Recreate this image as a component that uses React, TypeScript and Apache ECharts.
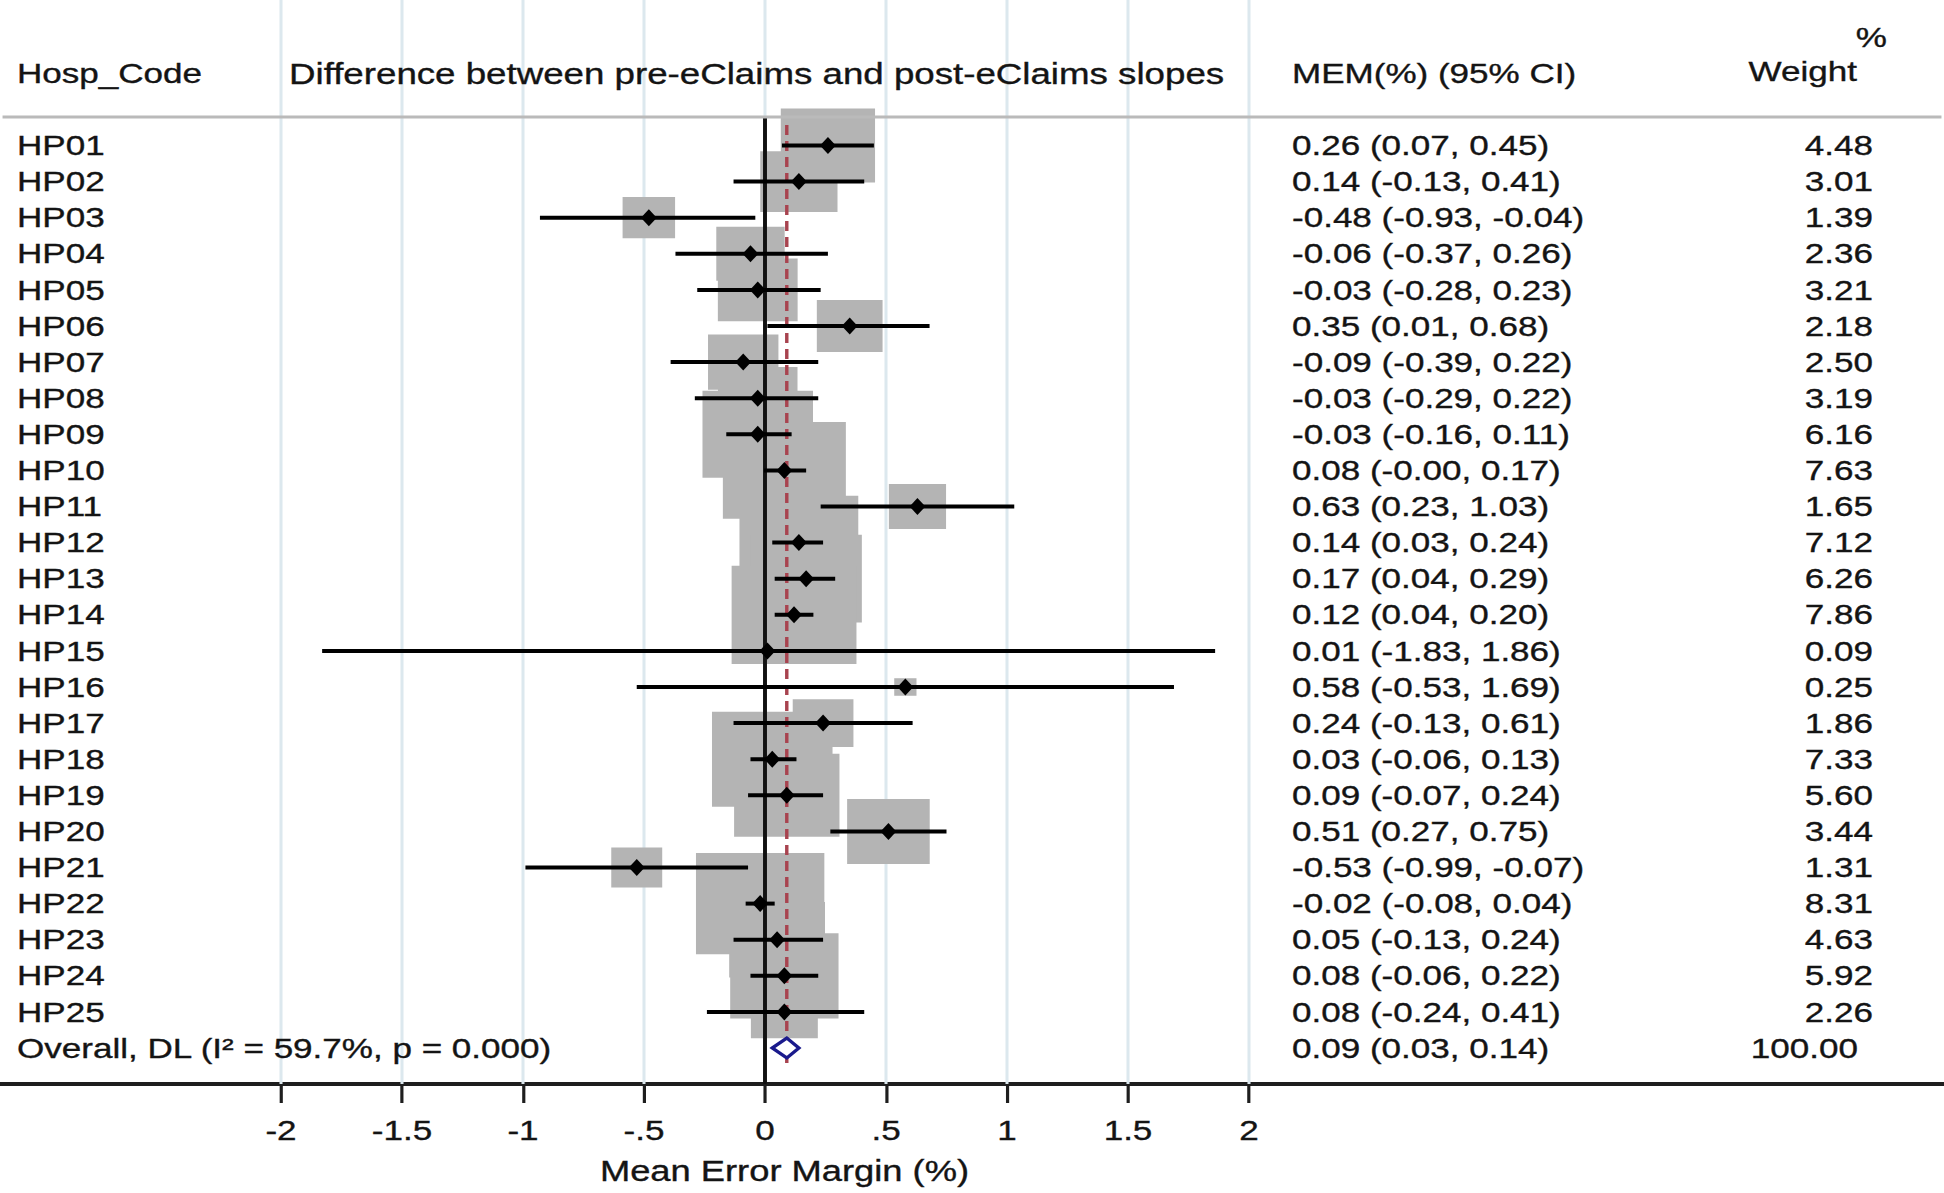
import React, { useEffect, useRef } from "react";
import * as echarts from "echarts";

// ---------------- data ----------------
const hospCodes = [
  "HP01", "HP02", "HP03", "HP04", "HP05", "HP06", "HP07", "HP08", "HP09", "HP10",
  "HP11", "HP12", "HP13", "HP14", "HP15", "HP16", "HP17", "HP18", "HP19", "HP20",
  "HP21", "HP22", "HP23", "HP24", "HP25",
];
const memValues = [
  0.26, 0.14, -0.48, -0.06, -0.03, 0.35, -0.09, -0.03, -0.03, 0.08,
  0.63, 0.14, 0.17, 0.12, 0.01, 0.58, 0.24, 0.03, 0.09, 0.51,
  -0.53, -0.02, 0.05, 0.08, 0.08,
];
const ciLower = [
  0.07, -0.13, -0.93, -0.37, -0.28, 0.01, -0.39, -0.29, -0.16, -0.004,
  0.23, 0.03, 0.04, 0.04, -1.83, -0.53, -0.13, -0.06, -0.07, 0.27,
  -0.99, -0.08, -0.13, -0.06, -0.24,
];
const ciUpper = [
  0.45, 0.41, -0.04, 0.26, 0.23, 0.68, 0.22, 0.22, 0.11, 0.17,
  1.03, 0.24, 0.29, 0.2, 1.86, 1.69, 0.61, 0.13, 0.24, 0.75,
  -0.07, 0.04, 0.24, 0.22, 0.41,
];
const weightPct = [
  4.48, 3.01, 1.39, 2.36, 3.21, 2.18, 2.5, 3.19, 6.16, 7.63,
  1.65, 7.12, 6.26, 7.86, 0.09, 0.25, 1.86, 7.33, 5.6, 3.44,
  1.31, 8.31, 4.63, 5.92, 2.26,
];
const overallLabel = "Overall, DL (I\u00B2 = 59.7%, p = 0.000)";
const overallMem = 0.09;
const overallLower = 0.03;
const overallUpper = 0.14;
const overallWeight = 100.0;

const xTickValues = [-2, -1.5, -1, -0.5, 0, 0.5, 1, 1.5, 2];

const headerCode = "Hosp_Code";
const headerPlot = "Difference between pre-eClaims and post-eClaims slopes";
const headerCI = "MEM(%) (95% CI)";
const headerPct = "%";
const headerWeight = "Weight";
const xAxisTitle = "Mean Error Margin (%)";

// ---------------- layout ----------------
const PAGE_W = 1944;
const PAGE_H = 1193;
const W = 1531; // internal width, stretched horizontally to the page width
const STRETCH = PAGE_W / W;
const fx = (x: number) => x / STRETCH; // reference px -> internal px
const AXIS_Y = 1084;
const ROW0_Y = 145.5;
const ROW_H = 36.1;
const ZERO_X = fx(765);
const UNIT_X = fx(242);
const X_MIN = -ZERO_X / UNIT_X;
const X_MAX = (W - ZERO_X) / UNIT_X;
const Y_MIN = -ROW0_Y / ROW_H;
const Y_MAX = (AXIS_Y - ROW0_Y) / ROW_H;
const rowOf = (y: number) => (y - ROW0_Y) / ROW_H;
const HEADER_LINE_Y = 117;
const BOX_UNITS = 0.184; // x-units per sqrt(weight %)

const FONT = '"Liberation Sans", Arial, Helvetica, sans-serif';
const FS = 27.6;
const TEXT_COLOR = "#141414";
const TEXT_STROKE = 0.35;
const LABEL_X = fx(17);
const CI_X = fx(1292);
const WEIGHT_RIGHT = fx(1873);
const OVERALL_WEIGHT_RIGHT = fx(1858);

const f2 = (v: number) => v.toFixed(2);
const tickFmt = (v: number) => {
  if (v === 0) return "0";
  const s = String(Math.abs(v)).replace(/^0\./, ".");
  return (v < 0 ? "-" : "") + s;
};

const txt = (x: number, y: number, text: string, align: string, fontSize = FS) => ({
  type: "text",
  x,
  y,
  style: {
    text,
    fill: TEXT_COLOR,
    stroke: TEXT_COLOR,
    lineWidth: TEXT_STROKE,
    fontSize,
    fontFamily: FONT,
    align,
    verticalAlign: "middle",
    textAlign: align,
    textVerticalAlign: "middle",
  },
});

function buildOption() {
  const n = hospCodes.length;
  const tableRows = hospCodes.map((c, i) => ({
    label: c,
    ci: `${f2(memValues[i])} (${f2(ciLower[i])}, ${f2(ciUpper[i])})`,
    weight: f2(weightPct[i]),
  }));
  tableRows.push({
    label: overallLabel,
    ci: `${f2(overallMem)} (${f2(overallLower)}, ${f2(overallUpper)})`,
    weight: f2(overallWeight),
  });

  return {
    animation: false,
    backgroundColor: "#ffffff",
    grid: {
      left: 0,
      right: 0,
      top: 0,
      bottom: PAGE_H - AXIS_Y,
      containLabel: false,
      outerBoundsMode: "none",
    },
    xAxis: {
      type: "value",
      min: X_MIN,
      max: X_MAX,
      axisLine: { show: true, onZero: false, lineStyle: { color: "#1e1e1e", width: 4 } },
      axisTick: {
        show: true,
        customValues: xTickValues,
        length: 19,
        lineStyle: { color: "#1e1e1e", width: 2.5 },
      },
      axisLabel: {
        show: true,
        customValues: xTickValues,
        formatter: (v: number) => tickFmt(v),
        fontSize: FS,
        fontFamily: FONT,
        color: TEXT_COLOR,
        textBorderColor: TEXT_COLOR,
        textBorderWidth: TEXT_STROKE,
        margin: 32,
      },
      splitLine: { show: false },
    },
    yAxis: {
      type: "value",
      inverse: true,
      min: Y_MIN,
      max: Y_MAX,
      show: false,
      splitLine: { show: false },
    },
    graphic: [
      {
        type: "line",
        z: 100,
        shape: { x1: 2, y1: HEADER_LINE_Y, x2: W - 2, y2: HEADER_LINE_Y },
        style: { stroke: "#bababa", lineWidth: 2.8 },
      },
      { ...txt(LABEL_X, 73, headerCode, "left"), z: 100 },
      { ...txt(fx(289), 74, headerPlot, "left", 28.9), z: 100 },
      { ...txt(CI_X, 73, headerCI, "left"), z: 100 },
      { ...txt(fx(1857), 71, headerWeight, "right"), z: 100 },
      { ...txt(fx(1887), 37, headerPct, "right"), z: 100 },
      { ...txt(fx(784.5), 1171, xAxisTitle, "center", 28.6), z: 100 },
    ],
    series: [
      // vertical light grid lines at the tick values
      {
        type: "custom",
        z: 1,
        silent: true,
        data: xTickValues.map((v) => [v, 0]),
        encode: { x: 0, y: 1 },
        renderItem: (params: any, api: any) => {
          const v = api.value(0);
          const a = api.coord([v, Y_MIN]);
          const b = api.coord([v, Y_MAX]);
          return {
            type: "line",
            shape: { x1: a[0], y1: a[1], x2: b[0], y2: b[1] },
            style: { stroke: "#dce8ee", lineWidth: 2.4 },
          };
        },
      },
      // weight boxes
      {
        type: "custom",
        z: 2,
        silent: true,
        data: memValues.map((m, i) => [m, i, weightPct[i]]),
        encode: { x: 0, y: 1 },
        renderItem: (params: any, api: any) => {
          const c = api.coord([api.value(0), api.value(1)]);
          const side = api.size([BOX_UNITS * Math.sqrt(api.value(2)), 0])[0];
          return {
            type: "rect",
            shape: { x: c[0] - side / 2, y: c[1] - side / 2, width: side, height: side },
            style: { fill: "#b4b4b4" },
          };
        },
      },
      // null line at 0
      {
        type: "custom",
        z: 3,
        silent: true,
        data: [[0, rowOf(HEADER_LINE_Y), Y_MAX]],
        encode: { x: 0, y: 1 },
        renderItem: (params: any, api: any) => {
          const a = api.coord([api.value(0), api.value(1)]);
          const b = api.coord([api.value(0), api.value(2)]);
          return {
            type: "line",
            shape: { x1: a[0], y1: a[1], x2: b[0], y2: b[1] },
            style: { stroke: "#111111", lineWidth: 3.1 },
          };
        },
      },
      // overall estimate dashed line
      {
        type: "custom",
        z: 3,
        silent: true,
        data: [[overallMem, rowOf(125), rowOf(1066)]],
        encode: { x: 0, y: 1 },
        renderItem: (params: any, api: any) => {
          const a = api.coord([api.value(0), api.value(1)]);
          const b = api.coord([api.value(0), api.value(2)]);
          return {
            type: "line",
            shape: { x1: a[0], y1: a[1], x2: b[0], y2: b[1] },
            style: { stroke: "#a8434f", lineWidth: 2.7, lineDash: [10, 6] },
          };
        },
      },
      // confidence intervals
      {
        type: "custom",
        z: 4,
        silent: true,
        data: memValues.map((m, i) => [ciLower[i], i, ciUpper[i]]),
        encode: { x: 0, y: 1 },
        renderItem: (params: any, api: any) => {
          const a = api.coord([api.value(0), api.value(1)]);
          const b = api.coord([api.value(2), api.value(1)]);
          return {
            type: "line",
            shape: { x1: a[0], y1: a[1], x2: b[0], y2: b[1] },
            style: { stroke: "#000000", lineWidth: 4 },
          };
        },
      },
      // point estimates
      {
        type: "scatter",
        z: 5,
        silent: true,
        symbol: "diamond",
        symbolSize: [12.5, 17],
        itemStyle: { color: "#000000", opacity: 1 },
        data: memValues.map((m, i) => [m, i]),
      },
      // overall diamond
      {
        type: "custom",
        z: 5,
        silent: true,
        data: [[overallLower, n, overallUpper, overallMem]],
        encode: { x: 0, y: 1 },
        renderItem: (params: any, api: any) => {
          const row = api.value(1);
          const l = api.coord([api.value(0), row]);
          const r = api.coord([api.value(2), row]);
          const m = api.coord([api.value(3), row]);
          const h = 10;
          return {
            type: "polygon",
            shape: {
              points: [
                [l[0], l[1]],
                [m[0], m[1] - h],
                [r[0], r[1]],
                [m[0], m[1] + h],
              ],
            },
            style: { fill: "#ffffff", stroke: "#1a1a8c", lineWidth: 3 },
          };
        },
      },
      // table text
      {
        type: "custom",
        z: 6,
        silent: true,
        data: tableRows.map((r, i) => [0, i]),
        encode: { x: 0, y: 1 },
        renderItem: (params: any, api: any) => {
          const i = params.dataIndex;
          const row = tableRows[i];
          const y = api.coord([0, api.value(1)])[1];
          const isOverall = i === n;
          return {
            type: "group",
            children: [
              txt(LABEL_X, y, row.label, "left"),
              txt(CI_X, y, row.ci, "left"),
              txt(isOverall ? OVERALL_WEIGHT_RIGHT : WEIGHT_RIGHT, y, row.weight, "right"),
            ],
          };
        },
      },
    ],
  };
}

export default function App() {
  const ref = useRef<HTMLDivElement>(null);
  useEffect(() => {
    document.documentElement.style.overflow = "hidden";
    document.body.style.margin = "0";
    document.body.style.overflow = "hidden";
    const chart = echarts.init(ref.current as HTMLDivElement, null, {
      renderer: "svg",
      width: W,
      height: PAGE_H,
    });
    chart.setOption(buildOption() as any);
    return () => {
      chart.dispose();
    };
  }, []);
  return (
    <div
      ref={ref}
      style={{
        position: "absolute",
        left: 0,
        top: 0,
        width: W,
        height: PAGE_H,
        transform: `scaleX(${STRETCH})`,
        transformOrigin: "0 0",
        background: "#ffffff",
      }}
    />
  );
}
